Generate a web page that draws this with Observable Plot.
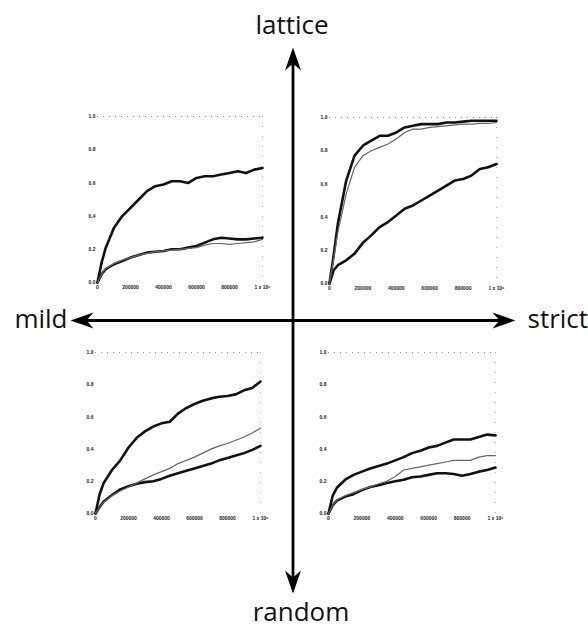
<!DOCTYPE html>
<html>
<head>
<meta charset="utf-8">
<script src="https://cdn.jsdelivr.net/npm/d3@7"></script>
<script src="https://cdn.jsdelivr.net/npm/@observablehq/plot@0.6"></script>
<style>
  html, body { margin: 0; padding: 0; background: #fff; }
  #chart { position: relative; width: 588px; height: 628px; background: #fff; overflow: hidden; }
  #chart > div, #chart > svg { position: absolute; }
</style>
</head>
<body>
<div id="chart"></div>
<script>
// ---- data ----
const xs = [0, 25000, 50000, 100000, 150000, 200000, 250000, 300000, 350000, 400000, 450000,
            500000, 550000, 600000, 650000, 700000, 750000, 800000, 850000, 900000, 950000, 1000000];

// top-left (mild, lattice)
const tlThickUpper = [0, 0.12, 0.21, 0.33, 0.40, 0.45, 0.50, 0.55, 0.58, 0.59, 0.61, 0.61, 0.60, 0.63, 0.64, 0.64, 0.65, 0.66, 0.67, 0.66, 0.68, 0.69];
const tlThickLower = [0, 0.05, 0.08, 0.11, 0.13, 0.15, 0.165, 0.18, 0.185, 0.19, 0.20, 0.20, 0.21, 0.22, 0.24, 0.26, 0.27, 0.265, 0.26, 0.26, 0.265, 0.27];
const tlThin       = [0, 0.05, 0.085, 0.115, 0.135, 0.15, 0.165, 0.175, 0.185, 0.19, 0.195, 0.20, 0.205, 0.21, 0.225, 0.235, 0.235, 0.23, 0.235, 0.24, 0.245, 0.26];

// top-right (strict, lattice)
const trThickUpper = [0, 0.17, 0.36, 0.62, 0.77, 0.83, 0.86, 0.89, 0.89, 0.91, 0.94, 0.95, 0.96, 0.96, 0.96, 0.97, 0.97, 0.975, 0.98, 0.98, 0.98, 0.98];
const trThickLower = [0, 0.08, 0.11, 0.14, 0.18, 0.245, 0.29, 0.34, 0.37, 0.41, 0.45, 0.47, 0.50, 0.53, 0.56, 0.59, 0.62, 0.63, 0.65, 0.69, 0.70, 0.72];
const trThin       = [0, 0.15, 0.31, 0.54, 0.70, 0.77, 0.80, 0.82, 0.84, 0.87, 0.91, 0.93, 0.93, 0.94, 0.945, 0.95, 0.955, 0.96, 0.96, 0.965, 0.965, 0.97];

// bottom-left (mild, random)
const blThickUpper = [0, 0.12, 0.19, 0.27, 0.33, 0.41, 0.47, 0.51, 0.54, 0.56, 0.57, 0.62, 0.655, 0.68, 0.70, 0.715, 0.725, 0.73, 0.74, 0.765, 0.78, 0.82];
const blThickLower = [0, 0.04, 0.075, 0.115, 0.15, 0.17, 0.185, 0.195, 0.20, 0.215, 0.235, 0.25, 0.265, 0.28, 0.295, 0.31, 0.33, 0.345, 0.36, 0.375, 0.395, 0.42];
const blThin       = [0, 0.04, 0.07, 0.11, 0.14, 0.165, 0.19, 0.215, 0.24, 0.26, 0.28, 0.31, 0.33, 0.35, 0.375, 0.40, 0.42, 0.435, 0.455, 0.475, 0.50, 0.53];

// bottom-right (strict, random)
const brThickUpper = [0, 0.11, 0.16, 0.21, 0.24, 0.26, 0.28, 0.295, 0.31, 0.33, 0.35, 0.375, 0.39, 0.41, 0.42, 0.44, 0.46, 0.46, 0.46, 0.475, 0.49, 0.485];
const brThickLower = [0, 0.05, 0.08, 0.105, 0.12, 0.145, 0.165, 0.175, 0.19, 0.20, 0.21, 0.225, 0.23, 0.24, 0.25, 0.25, 0.245, 0.235, 0.245, 0.26, 0.27, 0.285];
const brThin       = [0, 0.05, 0.085, 0.11, 0.13, 0.15, 0.165, 0.185, 0.20, 0.23, 0.27, 0.28, 0.29, 0.30, 0.31, 0.32, 0.33, 0.33, 0.33, 0.35, 0.36, 0.36];

// tick labels
const xTicks = [0, 200000, 400000, 600000, 800000, 1000000];
const xTickLabels = ["0", "200000", "400000", "600000", "800000", "1 x 10\u2076"];
const yTicks = [0, 0.2, 0.4, 0.6, 0.8, 1.0];
const yTickLabels = ["0.0", "0.2", "0.4", "0.6", "0.8", "1.0"];

// axis arrows
const arrowLabels = ["lattice", "random", "mild", "strict"];
const arrowDirX = [0, 0, -1, 1];
const arrowDirY = [1, -1, 0, 0];

// ---- drawing ----
const chart = document.getElementById("chart");

// arrowhead symbol (stealth), tip at the origin, pointing in the given angle
function headSymbol(angleDeg) {
  const a = angleDeg * Math.PI / 180, c = Math.cos(a), s = Math.sin(a);
  const pts = [[0, 0], [8, 23], [0, 16], [-8, 23]].map(([x, y]) => [x * c - y * s, x * s + y * c]);
  return {
    draw(ctx) {
      ctx.moveTo(pts[0][0], pts[0][1]);
      for (let i = 1; i < pts.length; i++) ctx.lineTo(pts[i][0], pts[i][1]);
      ctx.closePath();
    }
  };
}

const arrows = arrowLabels.map((name, i) => ({name, x: arrowDirX[i], y: arrowDirY[i]}));
const angleOf = d => d.y > 0 ? 0 : d.y < 0 ? 180 : d.x > 0 ? 90 : 270;

const textFont = "'Open Sans', 'Noto Sans', sans-serif";
const bg = Plot.plot({
  width: 588,
  height: 628,
  marginLeft: 70,
  marginRight: 73,
  marginTop: 47,
  marginBottom: 35,
  x: {domain: [-1, 1], axis: null},
  y: {domain: [-1, 1], axis: null},
  style: {background: "transparent", overflow: "visible"},
  marks: [
    Plot.arrow(arrows, {x1: () => 0, y1: () => 0, x2: "x", y2: "y", stroke: "black", strokeWidth: 2.8, headLength: 0, insetEnd: 14, bend: 0}),
    ...arrows.map(d => Plot.dot([d], {x: "x", y: "y", symbol: headSymbol(angleOf(d)), fill: "black", stroke: "none", r: 6})),
    Plot.text(arrows.filter(d => d.y > 0), {x: "x", y: "y", text: "name", dy: -22, dx: -1, fontSize: 26, fontFamily: textFont, fill: "#111"}),
    Plot.text(arrows.filter(d => d.y < 0), {x: "x", y: "y", text: "name", dy: 19, dx: 8, fontSize: 26, fontFamily: textFont, fill: "#111"}),
    Plot.text(arrows.filter(d => d.x < 0), {x: "x", y: "y", text: "name", dx: -3, dy: -1, textAnchor: "end", fontSize: 26, fontFamily: textFont, fill: "#111"}),
    Plot.text(arrows.filter(d => d.x > 0), {x: "x", y: "y", text: "name", dx: 12, dy: -1, textAnchor: "start", fontSize: 26, fontFamily: textFont, fill: "#111"})
  ]
});
bg.style.left = "0px";
bg.style.top = "0px";
chart.appendChild(bg);

const xLabel = new Map(xTicks.map((v, i) => [v, xTickLabels[i]]));
const yLabel = new Map(yTicks.map((v, i) => [v, yTickLabels[i]]));
const rows = ys => xs.map((x, i) => ({x, y: ys[i]}));

function panel(thickUpper, thickLower, thin, left, top, w, h) {
  const ml = 14, mr = 12, mt = 6, mb = 14;
  const p = Plot.plot({
    width: w + ml + mr,
    height: h + mt + mb,
    marginLeft: ml, marginRight: mr, marginTop: mt, marginBottom: mb,
    x: {domain: [0, 1000000], ticks: xTicks, tickFormat: d => xLabel.get(d), tickSize: 0, tickPadding: 3, label: null},
    y: {domain: [0, 1], ticks: yTicks, tickFormat: d => yLabel.get(d), tickSize: 0, tickPadding: 2, label: null},
    style: {background: "transparent", fontSize: "5px", fontWeight: "bold", fontFamily: "'Liberation Sans', sans-serif", color: "#222", overflow: "visible"},
    marks: [
      Plot.ruleY([1], {stroke: "#888", strokeWidth: 1, strokeDasharray: "1 5"}),
      Plot.ruleX([1000000], {stroke: "#aaa", strokeWidth: 1, strokeDasharray: "1 9"}),
      Plot.line(rows(thickUpper), {x: "x", y: "y", stroke: "#111", strokeWidth: 2.6}),
      Plot.line(rows(thickLower), {x: "x", y: "y", stroke: "#111", strokeWidth: 2.6}),
      Plot.line(rows(thin), {x: "x", y: "y", stroke: "#666", strokeWidth: 1.2})
    ]
  });
  p.style.left = (left - ml) + "px";
  p.style.top = (top - mt) + "px";
  chart.appendChild(p);
}

panel(tlThickUpper, tlThickLower, tlThin, 97, 116, 165, 166);
panel(trThickUpper, trThickLower, trThin, 329, 117, 167, 166);
panel(blThickUpper, blThickLower, blThin, 95, 352, 165, 161);
panel(brThickUpper, brThickLower, brThin, 328, 352, 167, 161);
</script>
</body>
</html>
